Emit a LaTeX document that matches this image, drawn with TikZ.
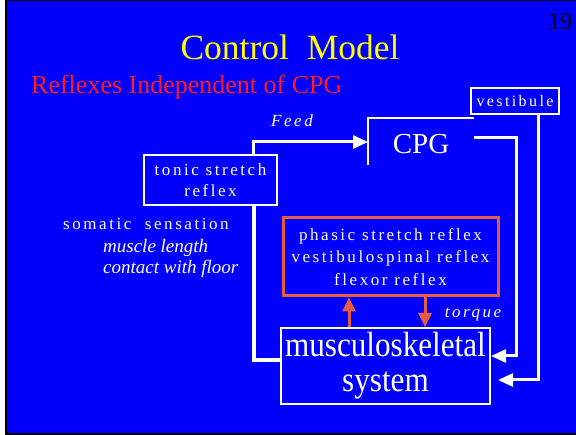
\documentclass[tikz,border=0pt]{standalone}
\usepackage{fontspec}
\setmainfont{Liberation Serif}
\newfontfamily\spaced[LetterSpace=15]{Liberation Serif}
\newfontfamily\narrow[FakeStretch=0.89]{Liberation Serif}
\usetikzlibrary{positioning}
\usetikzlibrary{arrows.meta}
\definecolor{slideblue}{RGB}{0,0,252}
\definecolor{titleyellow}{RGB}{255,255,0}
\definecolor{subred}{RGB}{255,28,28}
\definecolor{reflexred}{RGB}{232,90,66}
\tikzset{
	whitebox/.style={draw=white, line width=2pt, text=white, inner sep=0pt, align=center, font=\spaced\fontsize{17}{21}\selectfont},
	reflexbox/.style={draw=reflexred, line width=3pt, text=white, inner sep=0pt, align=center, font=\spaced\fontsize{17}{22.5}\selectfont},
	labeltext/.style={text=white, inner sep=0pt, font=\spaced\fontsize{17}{21}\selectfont},
	whitearrow/.style={draw=white, line width=3pt, -{Triangle[length=15pt,width=13pt]}},
	redarrow/.style={draw=reflexred, line width=3pt, -{Triangle[length=14pt,width=13pt]}},
}

\begin{document}
\begin{tikzpicture}[x=1pt, y=-1pt]
	\useasboundingbox (0,0) rectangle (576,435);
	\fill[black] (5,0) rectangle (576,435);
	\fill[slideblue] (7,1.5) rectangle (576,433.5);
	
	% headings
	\node[text=titleyellow, font=\fontsize{35.5}{38}\selectfont] (title) at (290,47) {Control\ \ Model};
	\node[anchor=west, inner sep=0pt, text=subred, font=\fontsize{26}{28}\selectfont] (subtitle) at (31,87) {Reflexes Independent of CPG};
	\node[inner sep=0pt, font=\fontsize{24}{26}\selectfont] (page) at (560,22) {19};
	
	% blocks
	\node[whitebox, minimum width=133, minimum height=50] (tonic) at (210.5,180) {tonic stretch\\reflex};
	\node[whitebox, minimum width=88, minimum height=26, font=\spaced\fontsize{16}{18}\selectfont] (vestibule) at (515,101) {vestibule};
	\node[text=white, font=\fontsize{29}{31}\selectfont] (cpg) at (421,144) {CPG};
	\draw[white, line width=2pt] ([xshift=-53,yshift=-21]cpg.center) |- ([xshift=53,yshift=26]cpg.center);
	\coordinate (cpgin) at ([xshift=-53,yshift=2]cpg.center);
	\coordinate (cpgout) at ([xshift=53,yshift=6]cpg.center);
	\node[reflexbox, minimum width=215, minimum height=78] (reflexes) at (390.5,257) {phasic stretch reflex\\vestibulospinal reflex\\flexor reflex};
	\node[whitebox, minimum width=209, minimum height=76, font=\narrow\fontsize{35}{35}\selectfont] (musc) at (385.5,366) {musculoskeletal\\system};
	
	% labels
	\node[labeltext, font=\spaced\itshape\fontsize{17}{21}\selectfont] (feed) at (292,121) {Feed};
	\node[labeltext, font=\spaced\itshape\fontsize{17}{21}\selectfont] (torque) at (473,315) {torque};
	\node[labeltext, anchor=west] (somatic) at (63,224) {somatic\ \ sensation};
	\node[labeltext, anchor=west, font=\itshape\fontsize{19}{21}\selectfont] (mlength) at (103,248) {muscle length};
	\node[labeltext, anchor=west, font=\itshape\fontsize{19}{21}\selectfont] (contact) at (103,269) {contact with floor};
	
	% connections
	\draw[whitearrow] ([xshift=42.5]tonic.north) |- (cpgin);
	\draw[white, line width=4pt] ([xshift=43.5]tonic.south) |- ([yshift=6]musc.west);
	\draw[whitearrow] (cpgout) -- ++(42,0) |- ([yshift=10]musc.east);
	\draw[whitearrow] ([xshift=23]vestibule.south) |- ([xshift=7,yshift=-14]musc.east);
	
	\coordinate (upx) at (349,0);
	\coordinate (downx) at (425,0);
	\draw[redarrow] (musc.north -| upx) -- (reflexes.south -| upx);
	\draw[redarrow] (reflexes.south -| downx) -- (musc.north -| downx);
\end{tikzpicture}
\end{document}
